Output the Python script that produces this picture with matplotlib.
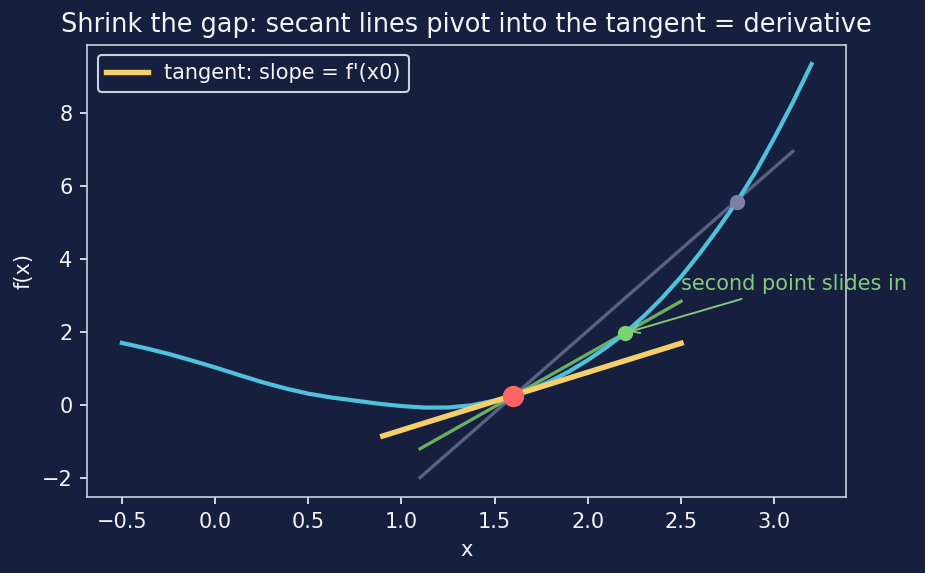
import matplotlib
matplotlib.use("Agg")
import matplotlib.pyplot as plt

# curve samples
curve_x = [-0.5, -0.375, -0.25, -0.125, 0.0, 0.125, 0.25, 0.375, 0.5, 0.625, 0.75, 0.875,
           1.0, 1.125, 1.25, 1.375, 1.5, 1.6, 1.7, 1.8, 1.9, 2.0, 2.1, 2.2, 2.3, 2.4,
           2.5, 2.6, 2.7, 2.8, 2.9, 3.0, 3.1, 3.2]
curve_y = [1.69, 1.549, 1.39, 1.209, 1.02, 0.817, 0.62, 0.447, 0.30, 0.194, 0.11, 0.026,
           -0.04, -0.082, -0.08, -0.02, 0.11, 0.24, 0.424, 0.645, 0.91, 1.22, 1.57, 1.96, 2.42, 2.93,
           3.50, 4.14, 4.83, 5.56, 6.38, 7.30, 8.28, 9.33]

# lines (endpoints)
tangent_x = [0.9, 2.5]
tangent_y = [-0.86, 1.68]
secant_far_x = [1.1, 3.1]
secant_far_y = [-2.0, 6.94]
secant_near_x = [1.1, 2.5]
secant_near_y = [-1.21, 2.83]

# points
x0, y0 = 1.6, 0.24
near_pt = (2.2, 1.96)
far_pt = (2.8, 5.56)

BG = "#16203e"
FG = "#f2f4f8"
SPINE = "#c9d0e0"

fig = plt.figure(figsize=(925 / 150, 573 / 150), dpi=150, facecolor=BG)
ax = fig.add_axes([0.0944, 0.1321, 0.8202, 0.7899])
ax.set_facecolor(BG)

ax.plot(secant_far_x, secant_far_y, color="#59617e", lw=1.6, zorder=2)
ax.plot(secant_near_x, secant_near_y, color="#6aae62", lw=1.6, zorder=2)
ax.plot(curve_x, curve_y, color="#4fc1dc", lw=2.0, zorder=3, solid_joinstyle="round")
ax.plot(tangent_x, tangent_y, color="#f5d06a", lw=2.6, zorder=4,
        label="tangent: slope = f'(x0)")

ax.scatter([far_pt[0]], [far_pt[1]], s=40, color="#7c82a4", zorder=5)
ax.scatter([near_pt[0]], [near_pt[1]], s=40, color="#7ad36e", zorder=5)
ax.scatter([x0], [y0], s=85, color="#ff6464", zorder=6)

ax.annotate("second point slides in", xy=near_pt, xytext=(2.5, 3.15),
            color="#86c97a", fontsize=10, annotation_clip=False,
            arrowprops=dict(arrowstyle="->", color="#86c97a", lw=0.9))

ax.set_xlim(-0.685, 3.385)
ax.set_ylim(-2.54, 9.86)
ax.set_xticks([-0.5, 0.0, 0.5, 1.0, 1.5, 2.0, 2.5, 3.0])
ax.set_yticks([-2, 0, 2, 4, 6, 8])

ax.set_title("Shrink the gap: secant lines pivot into the tangent = derivative",
             color=FG, fontsize=12.3)
ax.set_xlabel("x", color=FG, fontsize=10)
ax.set_ylabel("f(x)", color=FG, fontsize=10)
ax.tick_params(colors=FG, labelsize=10)
for s in ax.spines.values():
    s.set_color(SPINE)

leg = ax.legend(loc="upper left", facecolor=BG, edgecolor=SPINE, fontsize=10,
                framealpha=1.0)
for t in leg.get_texts():
    t.set_color(FG)

fig.savefig("out.png", dpi=150, facecolor=BG)
